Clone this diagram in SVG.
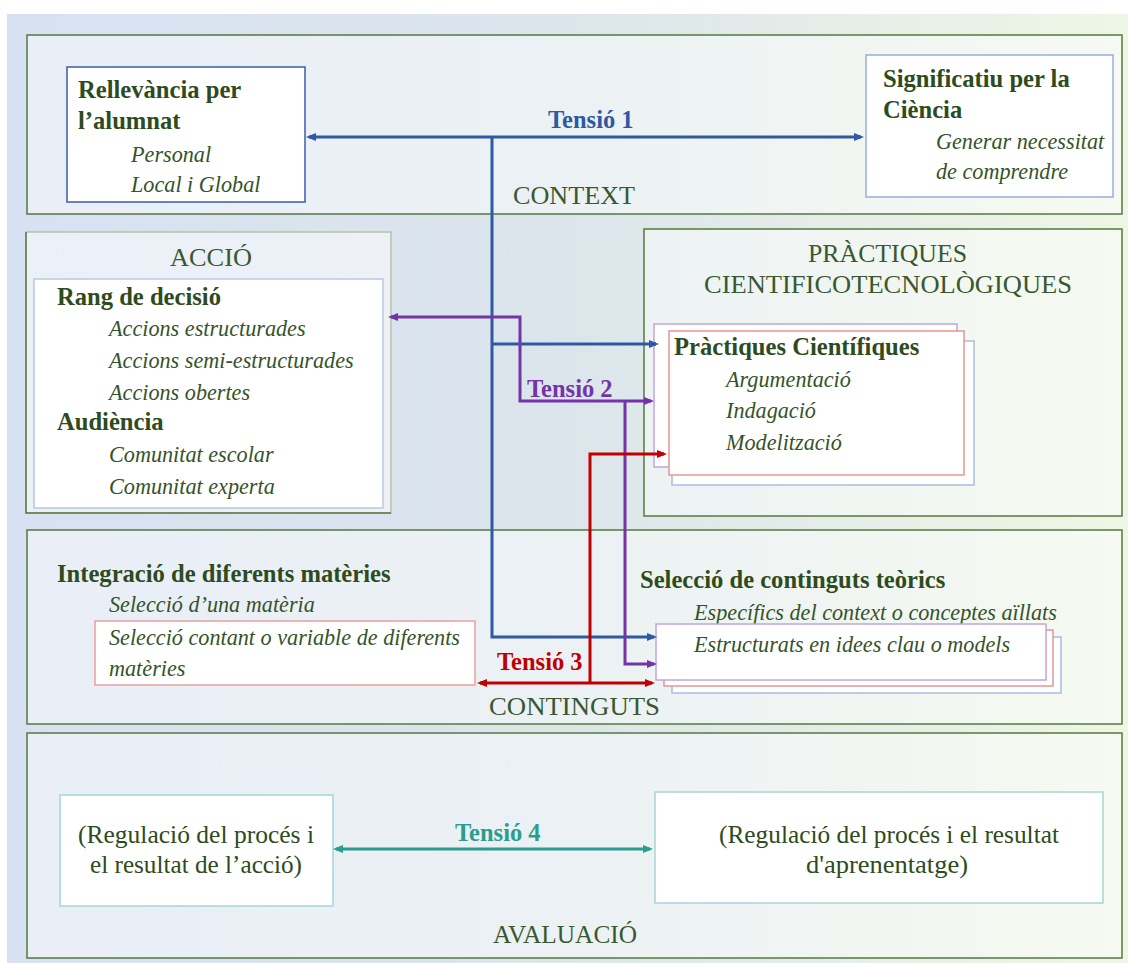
<svg xmlns="http://www.w3.org/2000/svg" width="1128" height="963" viewBox="0 0 1128 963">
  <defs>
    <linearGradient id="bg" x1="0" y1="0" x2="1" y2="0">
      <stop offset="0" stop-color="#d7e1f2"/>
      <stop offset="0.5" stop-color="#dce5eb"/>
      <stop offset="1" stop-color="#eef6e5"/>
    </linearGradient>
    <marker id="ahBlue" viewBox="0 0 10 8" markerWidth="10" markerHeight="8" markerUnits="userSpaceOnUse" refX="7" refY="4" orient="auto-start-reverse">
      <path d="M0,0 L10,4 L0,8 z" fill="#2e59a3"/>
    </marker>
    <marker id="ahPurple" viewBox="0 0 10 8" markerWidth="10" markerHeight="8" markerUnits="userSpaceOnUse" refX="7" refY="4" orient="auto-start-reverse">
      <path d="M0,0 L10,4 L0,8 z" fill="#7434a8"/>
    </marker>
    <marker id="ahRed" viewBox="0 0 10 8" markerWidth="10" markerHeight="8" markerUnits="userSpaceOnUse" refX="7" refY="4" orient="auto-start-reverse">
      <path d="M0,0 L10,4 L0,8 z" fill="#c00000"/>
    </marker>
    <marker id="ahTeal" viewBox="0 0 10 8" markerWidth="10" markerHeight="8" markerUnits="userSpaceOnUse" refX="7" refY="4" orient="auto-start-reverse">
      <path d="M0,0 L10,4 L0,8 z" fill="#2a9d8f"/>
    </marker>
  </defs>
  <style>
    text { font-family: "Liberation Serif", "DejaVu Serif", serif; fill: #2e4b20; }
    .h { font-size: 24.6px; font-weight: bold; }
    .i { font-size: 22.2px; font-style: italic; fill: #35532a; }
    .title { font-size: 25px; fill: #3a5830; }
    .reg { font-size: 25px; fill: #2e4b20; }
    .panel { fill: #ffffff; fill-opacity: 0.45; stroke: #56783f; stroke-width: 1.5; }
    .box { fill: #ffffff; }
    .conn { fill: none; stroke-width: 3; }
    .t { font-size: 24.5px; font-weight: bold; }
  </style>

  <!-- page background -->
  <rect x="0" y="0" width="1128" height="963" fill="#ffffff"/>
  <rect x="7" y="14" width="1121" height="949" fill="url(#bg)"/>

  <!-- CONTEXT -->
  <g id="context">
    <rect class="panel" x="27" y="35" width="1095" height="179"/>
    <text class="title" x="513" y="204" textLength="122" lengthAdjust="spacingAndGlyphs">CONTEXT</text>
  </g>
  <g id="rellevancia">
    <rect class="box" x="67" y="67" width="238" height="135" stroke="#3a5ca8" stroke-width="1.5"/>
    <text class="h" x="78" y="98">Rellevància per</text>
    <text class="h" x="78" y="129">l’alumnat</text>
    <text class="i" x="131" y="162">Personal</text>
    <text class="i" x="131" y="192">Local i Global</text>
  </g>
  <g id="significatiu">
    <rect class="box" x="866" y="55" width="247" height="142" stroke="#97aedb" stroke-width="1.5"/>
    <text class="h" x="883" y="87">Significatiu per la</text>
    <text class="h" x="883" y="118">Ciència</text>
    <text class="i" x="936" y="149">Generar necessitat</text>
    <text class="i" x="936" y="179">de comprendre</text>
  </g>

  <!-- ACCIÓ -->
  <g id="accio">
    <rect x="26" y="232" width="365" height="281" fill="#ffffff" fill-opacity="0.5" stroke="#b3c3a6" stroke-width="1.5"/>
    <path d="M26,232 V513 H391" fill="none" stroke="#5b7a45" stroke-width="1.5"/>
    <text class="title" x="170" y="266" textLength="82" lengthAdjust="spacingAndGlyphs">ACCIÓ</text>
    <rect class="box" x="34" y="279" width="349" height="229" stroke="#b9c8e0" stroke-width="1.5"/>
    <text class="h" x="57" y="305">Rang de decisió</text>
    <text class="i" x="109" y="336">Accions estructurades</text>
    <text class="i" x="109" y="368">Accions semi-estructurades</text>
    <text class="i" x="109" y="400">Accions obertes</text>
    <text class="h" x="57" y="430">Audiència</text>
    <text class="i" x="109" y="462">Comunitat escolar</text>
    <text class="i" x="109" y="494">Comunitat experta</text>
  </g>

  <!-- PRÀCTIQUES CIENTIFICOTECNOLÒGIQUES -->
  <g id="practiques">
    <rect class="panel" x="644" y="229" width="478" height="287"/>
    <text class="title" x="808" y="262" textLength="159" lengthAdjust="spacingAndGlyphs">PRÀCTIQUES</text>
    <text class="title" x="704" y="293" textLength="368" lengthAdjust="spacingAndGlyphs">CIENTIFICOTECNOLÒGIQUES</text>
  </g>
  <g id="practiques-cientifiques">
    <rect class="box" x="672" y="341" width="302" height="144" stroke="#a9bde0" stroke-width="1.5"/>
    <rect class="box" x="654" y="324" width="303" height="143" stroke="#c3a4e0" stroke-width="1.5"/>
    <rect class="box" x="669" y="331" width="295" height="144" stroke="#e89494" stroke-width="1.5"/>
    <text class="h" x="674" y="355">Pràctiques Científiques</text>
    <text class="i" x="726" y="387">Argumentació</text>
    <text class="i" x="726" y="418">Indagació</text>
    <text class="i" x="726" y="450">Modelització</text>
  </g>

  <!-- CONTINGUTS -->
  <g id="continguts">
    <rect class="panel" x="27" y="530" width="1095" height="194"/>
    <text class="title" x="489" y="715" textLength="171" lengthAdjust="spacingAndGlyphs">CONTINGUTS</text>
  </g>
  <g id="integracio">
    <text class="h" x="57" y="582">Integració de diferents matèries</text>
    <text class="i" x="109" y="612">Selecció d’una matèria</text>
    <rect class="box" x="95" y="621" width="380" height="64" stroke="#ec9e9e" stroke-width="1.5"/>
    <text class="i" x="109" y="645">Selecció contant o variable de diferents</text>
    <text class="i" x="109" y="676">matèries</text>
  </g>
  <g id="seleccio-continguts">
    <text class="h" x="640" y="588">Selecció de continguts teòrics</text>
    <text class="i" x="694" y="620">Específics del context o conceptes aïllats</text>
    <rect class="box" x="672" y="637" width="389" height="56" stroke="#a9bde0" stroke-width="1.5"/>
    <rect class="box" x="664" y="630" width="389" height="56" stroke="#e89494" stroke-width="1.5"/>
    <rect class="box" x="656" y="624" width="390" height="56" stroke="#c3a4e0" stroke-width="1.5"/>
    <text class="i" x="694" y="652">Estructurats en idees clau o models</text>
  </g>

  <!-- AVALUACIÓ -->
  <g id="avaluacio">
    <rect class="panel" x="27" y="733" width="1095" height="225"/>
    <text class="title" x="493" y="943" textLength="144" lengthAdjust="spacingAndGlyphs">AVALUACIÓ</text>
  </g>
  <g id="regulacio-accio">
    <rect class="box" x="60" y="795" width="273" height="111" stroke="#a6d6d6" stroke-width="1.5"/>
    <text class="reg" x="196" y="843" text-anchor="middle" textLength="236" lengthAdjust="spacingAndGlyphs">(Regulació del procés i</text>
    <text class="reg" x="196" y="873" text-anchor="middle" textLength="212" lengthAdjust="spacingAndGlyphs">el resultat de l’acció)</text>
  </g>
  <g id="regulacio-aprenentatge">
    <rect class="box" x="655" y="792" width="448" height="111" stroke="#a6d6d6" stroke-width="1.5"/>
    <text class="reg" x="889" y="843" text-anchor="middle" textLength="340" lengthAdjust="spacingAndGlyphs">(Regulació del procés i el resultat</text>
    <text class="reg" x="887" y="873" text-anchor="middle" textLength="162" lengthAdjust="spacingAndGlyphs">d'aprenentatge)</text>
  </g>

  <!-- connectors -->
  <g id="connectors">
    <!-- Tensió 1 -->
    <path class="conn" stroke="#2e59a3" d="M309,137 H861" marker-start="url(#ahBlue)" marker-end="url(#ahBlue)"/>
    <path class="conn" stroke="#2e59a3" d="M492,137 V637 H654" marker-end="url(#ahBlue)"/>
    <path class="conn" stroke="#2e59a3" d="M492,344 H656" marker-end="url(#ahBlue)"/>
    <text class="t" x="548" y="128" style="fill:#2e59a3">Tensió 1</text>
    <!-- Tensió 2 -->
    <path class="conn" stroke="#7434a8" d="M391,317 H520 V401 H651" marker-start="url(#ahPurple)" marker-end="url(#ahPurple)"/>
    <path class="conn" stroke="#7434a8" d="M625,401 V664 H654" marker-end="url(#ahPurple)"/>
    <text class="t" x="527" y="397" style="fill:#7434a8">Tensió 2</text>
    <!-- Tensió 3 -->
    <path class="conn" stroke="#c00000" d="M664,454 H590 V683" marker-start="url(#ahRed)"/>
    <path class="conn" stroke="#c00000" d="M480,683 H652" marker-start="url(#ahRed)" marker-end="url(#ahRed)"/>
    <text class="t" x="497" y="670" style="fill:#c00000">Tensió 3</text>
    <!-- Tensió 4 -->
    <path class="conn" stroke="#2a9d8f" d="M336,849 H650" marker-start="url(#ahTeal)" marker-end="url(#ahTeal)"/>
    <text class="t" x="455" y="841" style="fill:#2a9d8f">Tensió 4</text>
  </g>
</svg>
